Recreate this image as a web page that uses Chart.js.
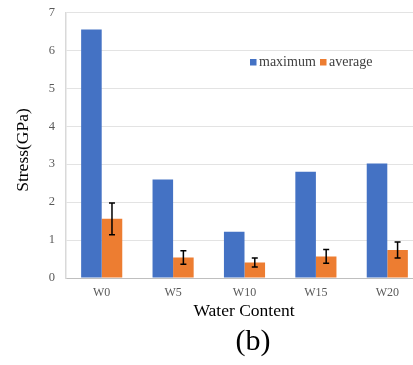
<!DOCTYPE html>
<html>
<head>
<meta charset="utf-8">
<script src="https://cdn.jsdelivr.net/npm/chart.js@4"></script>
<style>
  html, body { margin: 0; padding: 0; background: #fff; overflow: hidden; }
  #wrap { width: 425px; height: 371px; margin-top: -6px; }
</style>
</head>
<body>
<div id="wrap"><canvas id="c"></canvas></div>
<script>
const categories = ["W0", "W5", "W10", "W15", "W20"];
const maximum = [6.55, 2.6, 1.22, 2.8, 3.02];
const average = [1.56, 0.54, 0.41, 0.57, 0.74];
const averageErr = [0.42, 0.18, 0.12, 0.18, 0.21];
const yTicks = [0, 1, 2, 3, 4, 5, 6, 7];

const SERIF = "'Liberation Serif', 'DejaVu Serif', serif";
const OFF = 6; // canvas is shifted up by this many px

// error bars on the "average" bars
const errorBars = {
  id: "errorBars",
  afterDatasetsDraw(chart) {
    const { ctx } = chart;
    const meta = chart.getDatasetMeta(1);
    const y = chart.scales.y;
    ctx.save();
    ctx.strokeStyle = "#000";
    ctx.lineWidth = 1.5;
    meta.data.forEach((bar, i) => {
      const top = y.getPixelForValue(average[i] + averageErr[i]);
      const bot = y.getPixelForValue(average[i] - averageErr[i]);
      const x = bar.x;
      ctx.beginPath();
      ctx.moveTo(x, top); ctx.lineTo(x, bot);
      ctx.moveTo(x - 3, top); ctx.lineTo(x + 3, top);
      ctx.moveTo(x - 3, bot); ctx.lineTo(x + 3, bot);
      ctx.stroke();
    });
    ctx.restore();
  }
};

// legend inside plot, axis titles and caption
const extras = {
  id: "extras",
  afterDraw(chart) {
    const { ctx } = chart;
    ctx.save();
    ctx.translate(0, OFF);
    ctx.textBaseline = "middle";
    ctx.font = "14px " + SERIF;
    ctx.fillStyle = "#4472C4";
    ctx.fillRect(250, 59, 6.5, 6.5);
    ctx.fillStyle = "#404040";
    ctx.textAlign = "left";
    ctx.fillText(chart.data.datasets[0].label, 259, 62);
    ctx.fillStyle = "#ED7D31";
    ctx.fillRect(320, 59, 6.5, 6.5);
    ctx.fillStyle = "#404040";
    ctx.fillText(chart.data.datasets[1].label, 329, 62);

    ctx.fillStyle = "#000";
    ctx.textAlign = "center";
    ctx.font = "17.5px " + SERIF;
    ctx.fillText("Water Content", 244, 311);
    ctx.font = "30px " + SERIF;
    ctx.fillText("(b)", 253, 342);

    ctx.font = "17.5px " + SERIF;
    ctx.translate(23, 150);
    ctx.rotate(-Math.PI / 2);
    ctx.fillText("Stress(GPa)", 0, 0);
    ctx.restore();
  }
};

new Chart(document.getElementById("c"), {
  type: "bar",
  data: {
    labels: categories,
    datasets: [
      { label: "maximum", data: maximum, backgroundColor: "#4472C4" },
      { label: "average", data: average, backgroundColor: "#ED7D31" }
    ]
  },
  options: {
    responsive: true,
    maintainAspectRatio: false,
    animation: false,
    devicePixelRatio: 1,
    layout: { padding: { top: 5, right: 2, left: 0, bottom: 0 } },
    datasets: { bar: { categoryPercentage: 0.576, barPercentage: 1.0 } },
    plugins: { legend: { display: false }, tooltip: { enabled: false } },
    scales: {
      x: {
        grid: { display: false, drawTicks: false },
        border: { color: "#bfbfbf", width: 1 },
        ticks: { color: "#595959", font: { family: SERIF, size: 12 }, padding: 8 },
        afterFit(s) { s.height = 87; }
      },
      y: {
        min: 0, max: 7,
        afterBuildTicks(s) { s.ticks = yTicks.map(v => ({ value: v })); },
        grid: { color: "#e3e3e3", drawTicks: false },
        border: { color: "#d9d9d9", width: 1.5 },
        ticks: { color: "#595959", font: { family: SERIF, size: 12.5 }, padding: 11 },
        afterFit(s) { s.width = 66; }
      }
    }
  },
  plugins: [errorBars, extras]
});
</script>
</body>
</html>
